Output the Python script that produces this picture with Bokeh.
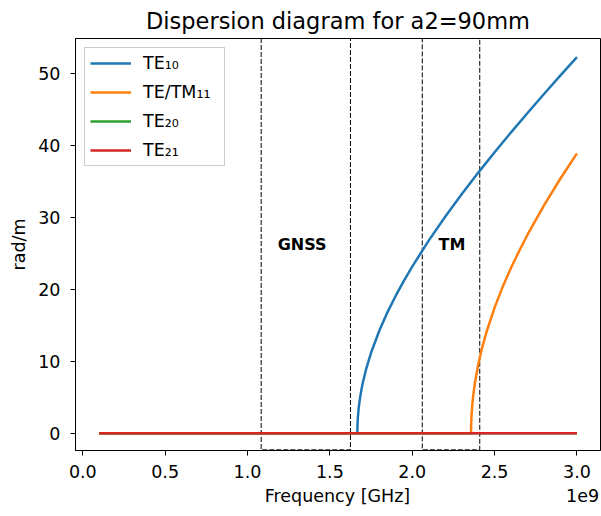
from bokeh.plotting import figure
from bokeh.models import Range1d, FixedTicker, Label, Legend, LegendItem, LinearAxis
from bokeh.embed import file_html
from bokeh.resources import INLINE

# ---- data (frequencies in Hz, beta in rad/m) ----
te10_f = [0.1e9, 1.6667e9, 1.668e9, 1.67e9, 1.675e9, 1.68e9, 1.69e9, 1.70e9, 1.72e9, 1.75e9,
          1.80e9, 1.85e9, 1.90e9, 1.95e9, 2.00e9, 2.10e9, 2.20e9, 2.30e9, 2.40e9, 2.50e9, 2.60e9,
          2.70e9, 2.80e9, 2.90e9, 3.00e9]
te10_b = [0.0, 0.0, 1.40, 2.21, 3.49, 4.42, 5.86, 7.02, 8.90, 11.18,
          14.24, 16.83, 19.11, 21.20, 23.15, 26.76, 30.08, 33.20, 36.17, 39.03, 41.80,
          44.49, 47.12, 49.70, 52.24]
te11_f = [0.1e9, 2.357e9, 2.358e9, 2.36e9, 2.365e9, 2.37e9, 2.38e9, 2.40e9, 2.42e9, 2.45e9,
          2.50e9, 2.55e9, 2.60e9, 2.65e9, 2.70e9, 2.80e9, 2.90e9, 3.00e9]
te11_b = [0.0, 0.0, 1.42, 2.48, 4.06, 5.19, 6.91, 9.47, 11.49, 14.00,
          17.45, 20.40, 22.99, 25.35, 27.58, 31.66, 35.39, 38.87]
te20_f = [0.1e9, 3.0e9]
te20_b = [0.0, 0.0]
te21_f = [0.1e9, 3.0e9]
te21_b = [0.0, 0.0]

series_names = ["TE₁₀", "TE/TM₁₁", "TE₂₀", "TE₂₁"]
series_colors = ["#1f77b4", "#ff7f0e", "#2ca02c", "#d62728"]

band_left = [1.083e9, 2.061e9]
band_right = [1.625e9, 2.41e9]
band_bottom = [-2.3, -2.3]
band_top = [70.0, 70.0]
band_names = ["GNSS", "TM"]
band_label_x = [1.183e9, 2.16e9]
band_label_y = [26.2, 26.2]

x_ticks = [0.0, 0.5e9, 1.0e9, 1.5e9, 2.0e9, 2.5e9, 3.0e9]
x_tick_labels = ["0.0", "0.5", "1.0", "1.5", "2.0", "2.5", "3.0"]
y_ticks = [0, 10, 20, 30, 40, 50]
x_title = "Frequency [GHz]"
x_offset_text = "1e9"

FONT = "DejaVu Sans"
FS = "17.5px"

p = figure(width=601, height=516, output_backend="svg", toolbar_location=None,
           x_range=Range1d(-0.0443e9, 3.143e9), y_range=Range1d(-2.39, 54.83),
           title="Dispersion diagram for a2=90mm")
p.min_border_left = 75
p.min_border_right = 1
p.min_border_top = 35
p.min_border_bottom = 66

p.title.align = "center"
p.title.text_font = FONT
p.title.text_font_size = "22.5px"
p.title.text_font_style = "normal"
p.title.text_color = "#000000"
p.title.standoff = 10

p.xgrid.visible = False
p.ygrid.visible = False
p.outline_line_color = "#000000"
p.outline_line_alpha = 1.0
p.outline_line_width = 1

for ax in (p.xaxis[0], p.yaxis[0]):
    ax.axis_line_color = "#000000"
    ax.major_tick_line_color = "#000000"
    ax.major_tick_out = 5
    ax.major_tick_in = 0
    ax.minor_tick_line_color = None
    ax.major_label_text_font = FONT
    ax.major_label_text_font_size = FS
    ax.major_label_text_color = "#000000"
    ax.axis_label_text_font = FONT
    ax.axis_label_text_font_size = FS
    ax.axis_label_text_font_style = "normal"
    ax.axis_label_text_color = "#000000"

p.xaxis.ticker = FixedTicker(ticks=x_ticks)
p.xaxis.major_label_overrides = {t: l for t, l in zip(x_ticks, x_tick_labels)}
p.yaxis.ticker = FixedTicker(ticks=y_ticks)
p.yaxis.axis_label = "rad/m"
p.xaxis.major_label_standoff = 9
p.yaxis.major_label_standoff = 10
p.yaxis.axis_label_standoff = 6

# second (label-only) axis below: carries the axis title and the offset text on one row
label_pos = [1.546e9, 3.034e9]
ax2 = LinearAxis(ticker=FixedTicker(ticks=label_pos),
                 major_label_overrides={label_pos[0]: x_title, label_pos[1]: x_offset_text})
ax2.axis_line_color = None
ax2.major_tick_line_color = None
ax2.minor_tick_line_color = None
ax2.major_tick_out = 0
ax2.major_tick_in = 0
ax2.major_label_standoff = 5
ax2.major_label_text_font = FONT
ax2.major_label_text_font_size = FS
ax2.major_label_text_color = "#000000"
p.add_layout(ax2, "below")

# bands
p.quad(left=band_left, right=band_right, bottom=band_bottom, top=band_top,
       fill_alpha=0, line_color="#000000", line_dash="5 2", line_width=1)

for nm, bx, by in zip(band_names, band_label_x, band_label_y):
    p.add_layout(Label(x=bx, y=by, text=nm, text_font=FONT, text_font_size="16px",
                       text_font_style="bold", text_baseline="middle", text_align="left",
                       text_color="#000000"))

items = []
for nm, col, fx, by in zip(series_names, series_colors,
                           [te10_f, te11_f, te20_f, te21_f],
                           [te10_b, te11_b, te20_b, te21_b]):
    r = p.line(fx, by, line_color=col, line_width=2.5)
    items.append(LegendItem(label=nm, renderers=[r]))

leg = Legend(items=items, location="top_left")
leg.label_text_font = FONT
leg.label_text_font_size = FS
leg.label_text_color = "#000000"
leg.glyph_width = 41
leg.glyph_height = 20
leg.label_height = 20
leg.label_width = 76
leg.spacing = 9
leg.padding = 5
leg.margin = 9
leg.border_line_color = "#cccccc"
leg.border_line_alpha = 1.0
leg.background_fill_alpha = 0.8
leg.label_standoff = 12
p.add_layout(leg)

open("out.html", "w").write(file_html(p, INLINE))
